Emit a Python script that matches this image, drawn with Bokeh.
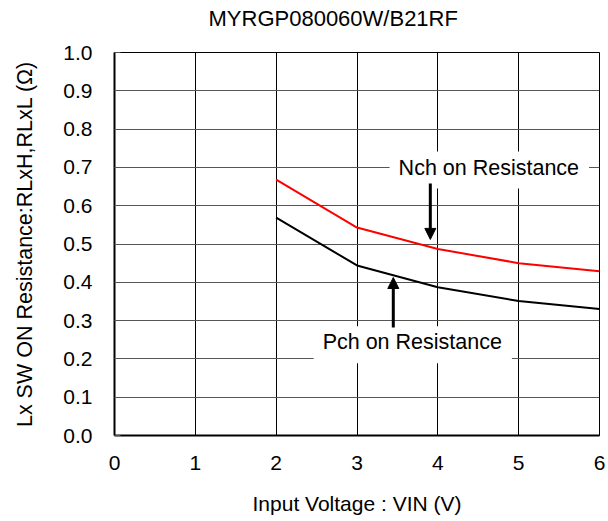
from bokeh.plotting import figure
from bokeh.models import Range1d, Label, Arrow, NormalHead, NumeralTickFormatter, Title
from bokeh.embed import file_html
from bokeh.resources import INLINE

# ---- data ----
vin = [2, 3, 4, 5, 6]
nch_on = [0.668, 0.543, 0.487, 0.450, 0.429]
pch_on = [0.569, 0.444, 0.387, 0.351, 0.330]

x_ticks = [0, 1, 2, 3, 4, 5, 6]
y_ticks = [0.0, 0.1, 0.2, 0.3, 0.4, 0.5, 0.6, 0.7, 0.8, 0.9, 1.0]

title_text = "MYRGP080060W/B21RF"
x_label = "Input Voltage : VIN (V)"
y_label = "Lx SW ON Resistance:RLxH,RLxL (Ω)"
nch_text = "Nch on Resistance"
pch_text = "Pch on Resistance"

FONT = "Liberation Sans"

p = figure(width=608, height=521, output_backend="svg", toolbar_location=None,
           x_range=Range1d(0, 6), y_range=Range1d(0, 1),
           min_border_left=114, min_border_right=9,
           min_border_top=52, min_border_bottom=86,
           background_fill_color="white", border_fill_color="white")

p.outline_line_color = "black"
p.outline_line_width = 1
p.outline_line_alpha = 1.0

# title: a thin spacer next to the frame, then the real title above it
p.title.visible = False
p.add_layout(Title(text=" ", text_font_size="1px", standoff=19), "above")
p.add_layout(Title(text=title_text, align="left", offset=94, vertical_align="bottom",
                   standoff=0, text_font=FONT, text_font_size="22px",
                   text_font_style="normal", text_color="black"), "above")

# grids
p.xgrid.ticker = x_ticks
p.ygrid.ticker = y_ticks
p.xgrid.grid_line_color = "black"
p.xgrid.grid_line_width = 1
p.ygrid.grid_line_color = "#555555"
p.ygrid.grid_line_width = 1

# axes
for ax in (p.xaxis[0], p.yaxis[0]):
    ax.axis_line_color = "black"
    ax.axis_line_width = 2
    ax.major_label_text_font = FONT
    ax.major_label_text_font_size = "21px"
    ax.major_label_text_color = "black"
    ax.axis_label_text_font = FONT
    ax.axis_label_text_font_style = "normal"
    ax.axis_label_text_color = "black"
    ax.minor_tick_line_color = None
    ax.major_tick_out = 0

xa = p.xaxis[0]
xa.ticker = x_ticks
xa.major_tick_in = 5
xa.major_tick_line_color = "black"
xa.major_label_standoff = 20
xa.axis_label = x_label
xa.axis_label_text_font_size = "21px"
xa.axis_label_standoff = 19

ya = p.yaxis[0]
ya.ticker = y_ticks
ya.formatter = NumeralTickFormatter(format="0.0")
ya.major_tick_in = 6
ya.major_tick_line_color = "#555555"
ya.major_label_standoff = 22
ya.axis_label = y_label
ya.axis_label_text_font_size = "21.5px"
ya.axis_label_standoff = 23

# data lines
p.line(vin, nch_on, line_color="#FF0000", line_width=2)
p.line(vin, pch_on, line_color="black", line_width=2)

# annotations
for tx, lx, ly in ((nch_text, 4.637, 0.693), (pch_text, 3.69, 0.237)):
    p.add_layout(Label(x=lx, y=ly, text=tx, text_align="center", text_baseline="middle",
                       text_font=FONT, text_font_size="21.5px", text_color="black",
                       background_fill_color="white", background_fill_alpha=1.0,
                       padding=dict(left=9, right=10, top=4, bottom=9)))

for axx, ys, ye in ((3.907, 0.658, 0.512), (3.449, 0.282, 0.4125)):
    p.add_layout(Arrow(x_start=axx, y_start=ys, x_end=axx, y_end=ye,
                       line_color="black", line_width=3,
                       end=NormalHead(size=11, fill_color="black", line_color="black", line_width=1)))

open("out.html", "w").write(file_html(p, INLINE))
